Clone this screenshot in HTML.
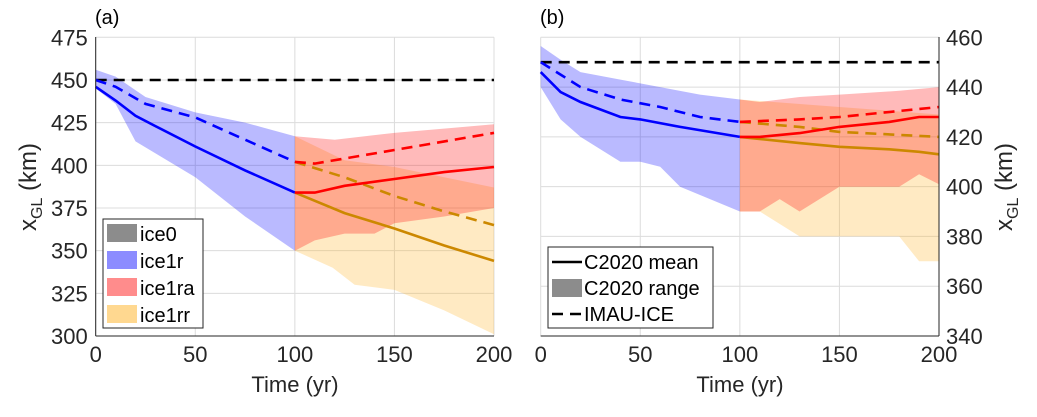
<!DOCTYPE html>
<html><head><meta charset="utf-8"><style>
body{margin:0;background:#fff;}
svg{font-family:"Liberation Sans",Arial,sans-serif;}
</style></head><body>
<svg id="c" width="1037" height="412" viewBox="0 0 1037 412" xmlns="http://www.w3.org/2000/svg"></svg>
<script>
const ticksX=[0,50,100,150,200];
const ticksYa=[300,325,350,375,400,425,450,475];
const ticksYb=[340,360,380,400,420,440,460];
// panel a data
const a_imau_t=[0,200], a_imau_v=[450,450];
const a_blue_t=[0,10,20,30,50,75,100], a_blue_mean=[446,438,429,423,411,397,384];
const a_blue_dash_t=[0,10,25,50,75,100], a_blue_dash=[450,446,436,428,415,402];
const a_blue_up_t=[0,10,25,50,75,100], a_blue_up=[456,452,440,431,425,417];
const a_blue_lo_t=[0,10,20,50,75,100], a_blue_lo=[445,436,414,393,370,350];
const a_red_t=[100,110,125,150,175,200], a_red_mean=[384,384,388,392,396,399];
const a_red_dash_t=[100,110,150,200], a_red_dash=[402,401,409,419];
const a_red_up_t=[100,120,150,200], a_red_up=[417,415,419,424];
const a_red_lo_t=[100,110,125,140,150,175,200], a_red_lo=[350,356,360,360,366,370,375];
const a_or_t=[100,125,150,175,200], a_or_mean=[384,372,363,353,344];
const a_or_dash=[402,393,382,373,365];
const a_or_up_t=[100,125,150,175,200], a_or_up=[417,403,399,393,387];
const a_or_lo_t=[100,119,130,150,175,200], a_or_lo=[350,340,330,327,315,301];
// panel b data
const b_imau_t=[0,200], b_imau_v=[450,450];
const b_blue_t=[0,10,20,40,50,70,100], b_blue_mean=[446,438,434,428,427,424,420];
const b_blue_dash_t=[0,10,20,40,60,80,100], b_blue_dash=[450,445,440,435,432,428,426];
const b_blue_up_t=[0,10,20,40,60,80,100], b_blue_up=[456.5,451,446,443,440,437,435];
const b_blue_lo_t=[0,10,20,40,50,60,70,100], b_blue_lo=[440,427,420,410,410,408,400,390];
const b_red_t=[100,110,130,150,175,190,200], b_red_mean=[420,420,421.5,424,426,428,428];
const b_red_dash_t=[100,130,150,200], b_red_dash=[426,427,428,432];
const b_or_t=[100,130,150,175,190,200], b_or_mean=[420,417.5,416,415,414,413];
const b_or_dash_t=[100,130,150,200], b_or_dash=[426,424,422,420];
const b_red_up_t=[100,110,130,150,180,200], b_red_up=[435,434,436,437,438.5,440];
const b_red_lo_t=[100,110,120,130,150,180,190,200], b_red_lo=[390,390,395,390,400,400,405,401];
const b_or_up_t=[100,150,200], b_or_up=[435,432,429];
const b_or_lo_t=[100,110,130,150,180,190,200], b_or_lo=[390,390,380,380,380,370,370];

const svg=document.getElementById('c');
const NS='http://www.w3.org/2000/svg';
function mk(tag,attrs,parent){const e=document.createElementNS(NS,tag);for(const k in attrs)e.setAttribute(k,attrs[k]);(parent||svg).appendChild(e);return e;}
const TOPY=37.3,BOTY=336;
function axes(x0,x1,y0,y1){return {X:t=>x0+(x1-x0)*t/200,Y:v=>BOTY-(BOTY-TOPY)*(v-y0)/(y1-y0)};}
const A=axes(95.7,494,300,475), B=axes(540.7,939,340,460);
function pts(ax,t,v){return t.map((x,i)=>ax.X(x).toFixed(1)+','+ax.Y(v[i]).toFixed(1));}
function band(ax,tu,vu,tl,vl,fill,name){
  const p=pts(ax,tu,vu).concat(pts(ax,tl,vl).reverse());
  const e=mk('polygon',{points:p.join(' '),fill:fill,'fill-opacity':0.27});
  
  
}
function line(ax,t,v,col,dash,name){
  const e=mk('polyline',{points:pts(ax,t,v).join(' '),fill:'none',stroke:col,'stroke-width':2.6,'stroke-dasharray':dash?'11,7':'none'});
  
  
}
function frame(ax,ticksY,right,label){
  const g=mk('g',{});
  
  
  const x0=ax.X(0),x1=ax.X(200);
  ticksX.forEach(t=>{const l=mk('line',{x1:ax.X(t),x2:ax.X(t),y1:TOPY,y2:BOTY,stroke:'#dcdcdc','stroke-width':1},g);
    
    
    const tx=mk('text',{x:ax.X(t),y:BOTY+26,'font-size':22,'text-anchor':'middle',fill:'#262626'},g);tx.textContent=t;
    
    });
  ticksY.forEach(v=>{const l=mk('line',{x1:x0,x2:x1,y1:ax.Y(v),y2:ax.Y(v),stroke:'#dcdcdc','stroke-width':1},g);
    
    
    const tx=mk('text',{x:right?x1+7:x0-8,y:ax.Y(v)+8,'font-size':22,'text-anchor':right?'start':'end',fill:'#262626'},g);tx.textContent=v;
    
    });
  return g;
}
frame(A,ticksYa,false,'a');
frame(B,ticksYb,true,'b');
const ORL='#cc8800';
// panel a
band(A,a_blue_up_t,a_blue_up,a_blue_lo_t,a_blue_lo,'#0000ff','band-ice1r-a');
band(A,a_or_up_t,a_or_up,a_or_lo_t,a_or_lo,'#ffb020','band-ice1rr-a');
band(A,a_red_up_t,a_red_up,a_red_lo_t,a_red_lo,'#ff0000','band-ice1ra-a');
line(A,a_imau_t,a_imau_v,'#000',true,'imau-ice0-a');
line(A,a_blue_t,a_blue_mean,'#0000ff',false,'mean-ice1r-a');
line(A,a_blue_dash_t,a_blue_dash,'#0000ff',true,'imau-ice1r-a');
line(A,a_or_t,a_or_dash,ORL,true,'imau-ice1rr-a');
line(A,a_or_t,a_or_mean,ORL,false,'mean-ice1rr-a');
line(A,a_red_dash_t,a_red_dash,'#ff0000',true,'imau-ice1ra-a');
line(A,a_red_t,a_red_mean,'#ff0000',false,'mean-ice1ra-a');
// panel b
band(B,b_blue_up_t,b_blue_up,b_blue_lo_t,b_blue_lo,'#0000ff','band-ice1r-b');
band(B,b_or_up_t,b_or_up,b_or_lo_t,b_or_lo,'#ffb020','band-ice1rr-b');
band(B,b_red_up_t,b_red_up,b_red_lo_t,b_red_lo,'#ff0000','band-ice1ra-b');
line(B,b_imau_t,b_imau_v,'#000',true,'imau-ice0-b');
line(B,b_blue_t,b_blue_mean,'#0000ff',false,'mean-ice1r-b');
line(B,b_blue_dash_t,b_blue_dash,'#0000ff',true,'imau-ice1r-b');
line(B,b_or_dash_t,b_or_dash,ORL,true,'imau-ice1rr-b');
line(B,b_or_t,b_or_mean,ORL,false,'mean-ice1rr-b');
line(B,b_red_dash_t,b_red_dash,'#ff0000',true,'imau-ice1ra-b');
line(B,b_red_t,b_red_mean,'#ff0000',false,'mean-ice1ra-b');
</script>
<svg style="position:absolute;left:0;top:0" width="1037" height="412" xmlns="http://www.w3.org/2000/svg" font-family="Liberation Sans, Arial, sans-serif">
  <line x1="95.7" y1="37" x2="95.7" y2="336" stroke="#262626" stroke-width="1"/>
  <line x1="95.7" y1="336" x2="494" y2="336" stroke="#262626" stroke-width="1"/>
  <line x1="939" y1="37" x2="939" y2="336" stroke="#262626" stroke-width="1"/>
  <line x1="540.7" y1="336" x2="939" y2="336" stroke="#262626" stroke-width="1"/>
  <text x="95" y="24" font-size="20" fill="#000">(a)</text>
  <text x="540" y="24" font-size="20" fill="#000">(b)</text>
  <text x="295" y="392" font-size="22" text-anchor="middle" fill="#262626">Time (yr)</text>
  <text x="740" y="392" font-size="22" text-anchor="middle" fill="#262626">Time (yr)</text>
  <text transform="translate(36,187) rotate(-90)" font-size="24" text-anchor="middle" fill="#262626">x<tspan font-size="16" dy="6">GL</tspan><tspan dy="-6"> (km)</tspan></text>
  <text transform="translate(1012,187) rotate(-90)" font-size="24" text-anchor="middle" fill="#262626">x<tspan font-size="16" dy="6">GL</tspan><tspan dy="-6"> (km)</tspan></text>
  <g>
    <rect x="103" y="219" width="100" height="109" fill="#fff" stroke="#262626" stroke-width="1"/>
    <rect x="107" y="224" width="30" height="18" fill="#8c8c8c"/>
    <text x="140" y="241" font-size="20">ice0</text>
    <rect x="107" y="251" width="30" height="18" fill="#8c8cff"/>
    <text x="140" y="268" font-size="20">ice1r</text>
    <rect x="107" y="278" width="30" height="18" fill="#ff8c8c"/>
    <text x="140" y="295" font-size="20">ice1ra</text>
    <rect x="107" y="305" width="30" height="18" fill="#ffd890"/>
    <text x="140" y="322" font-size="20">ice1rr</text>
  </g>
  <g>
    <rect x="548" y="247" width="165" height="81" fill="#fff" stroke="#262626" stroke-width="1"/>
    <line x1="552" y1="262" x2="582" y2="262" stroke="#000" stroke-width="2.6"/>
    <text x="584" y="269" font-size="20">C2020 mean</text>
    <rect x="552" y="279" width="30" height="18" fill="#8c8c8c"/>
    <text x="584" y="295" font-size="20">C2020 range</text>
    <line x1="552" y1="314" x2="582" y2="314" stroke="#000" stroke-width="2.6" stroke-dasharray="11,7"/>
    <text x="584" y="321" font-size="20">IMAU-ICE</text>
  </g>
</svg>
</body></html>
